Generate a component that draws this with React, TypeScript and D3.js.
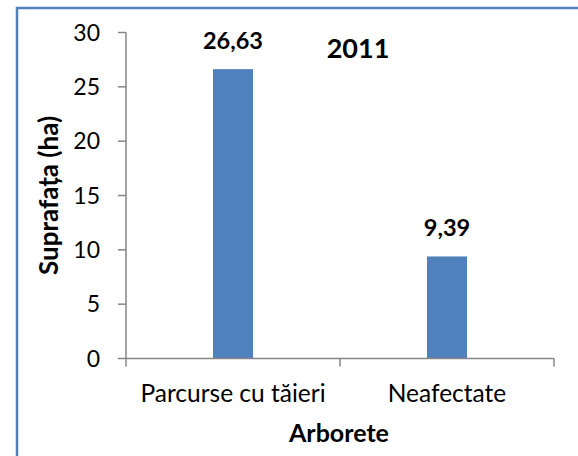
import * as d3 from 'd3';
import React from 'react';

const width = 578;
const height = 456;
const margin = { top: 32.5, right: 24, bottom: 97.5, left: 126 };
const blue = '#4f81bd';
const axisGrey = '#868686';
const font = 'Lato, "Open Sans", sans-serif';

// chart data
const categories = ['Parcurse cu tăieri', 'Neafectate'];
const values = [26.63, 9.39];
const valueLabels = ['26,63', '9,39'];
const yTicks = [0, 5, 10, 15, 20, 25, 30];
const title = '2011';
const xTitle = 'Arborete';
const yTitle = 'Suprafața (ha)';

const App = () => {
  const x = d3
    .scaleBand<string>()
    .domain(categories)
    .range([margin.left, width - margin.right])
    .paddingInner(0.813)
    .paddingOuter(0.4065);
  const y = d3
    .scaleLinear()
    .domain([0, 30])
    .range([height - margin.bottom, margin.top]);

  const step = x.step();
  const start = margin.left;
  // category boundaries for the tick marks
  const boundaries = d3.range(categories.length + 1).map(i => start + i * step);
  const plotMid = (y(0) + y(30)) / 2;

  return (
    <svg
      width={width}
      height={height}
      style={{ position: 'absolute', left: 0, top: 0, background: '#fff' }}
    >
      <rect x={0} y={0} width={width} height={height} fill="#fff" />
      {/* chart frame, cut off on the right and bottom */}
      <rect
        x={17}
        y={8}
        width={width + 10}
        height={height + 10}
        fill="none"
        stroke={blue}
        strokeWidth={2.5}
      />

      {values.map((v, i) => (
        <rect
          key={categories[i]}
          x={x(categories[i])}
          y={y(v)}
          width={x.bandwidth()}
          height={y(0) - y(v)}
          fill={blue}
        />
      ))}

      {/* y axis */}
      <line x1={margin.left} x2={margin.left} y1={y(30)} y2={y(0)} stroke={axisGrey} strokeWidth={1.5} />
      {yTicks.map(t => (
        <g key={t}>
          <line x1={margin.left - 8} x2={margin.left} y1={y(t)} y2={y(t)} stroke={axisGrey} strokeWidth={1.5} />
          <text
            x={margin.left - 26}
            y={y(t)}
            dy="0.36em"
            textAnchor="end"
            fontFamily={font}
            fontSize={23}
            fill="#000"
          >
            {t}
          </text>
        </g>
      ))}

      {/* x axis */}
      <line x1={boundaries[0]} x2={boundaries[boundaries.length - 1]} y1={y(0)} y2={y(0)} stroke={axisGrey} strokeWidth={1.5} />
      {boundaries.map(b => (
        <line key={b} x1={b} x2={b} y1={y(0)} y2={y(0) + 8} stroke={axisGrey} strokeWidth={1.5} />
      ))}
      {categories.map(c => (
        <text
          key={c}
          x={(x(c) as number) + x.bandwidth() / 2}
          y={402}
          textAnchor="middle"
          fontFamily={font}
          fontSize={24.5}
          fill="#000"
        >
          {c}
        </text>
      ))}

      {/* data labels */}
      {values.map((v, i) => (
        <text
          key={valueLabels[i]}
          x={(x(categories[i]) as number) + x.bandwidth() / 2}
          y={y(v) - 20}
          textAnchor="middle"
          fontFamily={font}
          fontWeight="bold"
          fontSize={23.5}
          fill="#000"
        >
          {valueLabels[i]}
        </text>
      ))}

      <text x={358} y={58} textAnchor="middle" fontFamily={font} fontWeight="bold" fontSize={27} fill="#000">
        {title}
      </text>
      <text x={339} y={442} textAnchor="middle" fontFamily={font} fontWeight="bold" fontSize={25} fill="#000">
        {xTitle}
      </text>
      <text
        transform={`translate(58, ${plotMid}) rotate(-90)`}
        textAnchor="middle"
        fontFamily={font}
        fontWeight="bold"
        fontSize={26}
        fill="#000"
      >
        {yTitle}
      </text>
    </svg>
  );
};

export default App;
